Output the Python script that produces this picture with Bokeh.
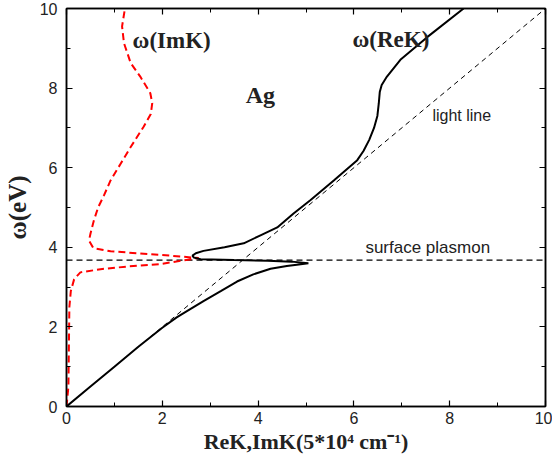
from bokeh.plotting import figure
from bokeh.models import LinearAxis, Label, Range1d, FixedTicker
from bokeh.embed import file_html
from bokeh.resources import INLINE

# omega(ReK): black solid curve (K in units of 5e4 cm^-1, omega in eV)
rek_k = [0.0, 0.5, 1.0, 1.5, 2.0, 2.3, 2.6, 2.86, 3.22, 3.56, 3.9, 4.26, 4.6, 4.85, 5.05,
         4.7, 4.2, 3.5, 2.8, 2.66, 2.63, 2.7, 2.86, 3.3, 3.7, 4.05, 4.4, 4.74, 5.09,
         5.58, 6.07, 6.2, 6.32, 6.42, 6.49, 6.52, 6.54, 6.58, 6.69, 6.97, 7.53, 8.29]
rek_w = [0.0, 0.5, 1.0, 1.5, 1.98, 2.24, 2.46, 2.65, 2.9, 3.14, 3.32, 3.46, 3.53, 3.57, 3.60,
         3.64, 3.665, 3.68, 3.70, 3.74, 3.79, 3.85, 3.91, 4.0, 4.1, 4.3, 4.5, 4.85, 5.18,
         5.68, 6.19, 6.42, 6.7, 7.0, 7.3, 7.62, 7.9, 8.08, 8.29, 8.71, 9.28, 10.0]

# omega(ImK): red dashed curve
imk_k = [0.0, 0.04, 0.05, 0.06, 0.09, 0.16, 0.29, 0.71, 1.3, 1.96, 2.76,
         1.96, 0.92, 0.56, 0.47, 0.5, 0.57, 0.66, 0.78, 0.92, 1.13, 1.34,
         1.61, 1.76, 1.79, 1.75, 1.54, 1.34, 1.2, 1.16, 1.22]
imk_w = [0.0, 0.5, 1.5, 2.5, 2.9, 3.2, 3.37, 3.45, 3.52, 3.58, 3.73,
         3.81, 3.9, 3.98, 4.17, 4.34, 4.67, 5.0, 5.3, 5.68, 6.10, 6.52,
         7.03, 7.35, 7.62, 7.87, 8.29, 8.63, 9.13, 9.55, 10.0]

# light line and surface plasmon
light_k = [0.0, 10.0]
light_w = [0.0, 10.0]
sp_k = [0.0, 10.0]
sp_w = [3.68, 3.68]

major_ticks = [0, 2, 4, 6, 8, 10]
minor_ticks = [1, 3, 5, 7, 9]

p = figure(width=552, height=456, output_backend="svg", toolbar_location=None,
           x_range=Range1d(0, 10), y_range=Range1d(0, 10),
           min_border_left=65, min_border_right=7, min_border_top=8,
           min_border_bottom=47)
p.grid.visible = False
p.outline_line_color = "black"
p.outline_line_width = 1.5
p.background_fill_color = "white"

serif = "Liberation Serif"
sans = "Liberation Sans"

def style_axis(ax, labels=True):
    ax.ticker = FixedTicker(ticks=major_ticks, minor_ticks=minor_ticks)
    ax.major_tick_in = 6
    ax.major_tick_out = 0
    ax.minor_tick_in = 4
    ax.minor_tick_out = 0
    ax.axis_line_color = "black"
    ax.axis_line_width = 1.5
    ax.major_tick_line_width = 1.2
    ax.minor_tick_line_width = 1.0
    ax.major_label_text_font = sans
    ax.major_label_text_font_size = "16px"
    ax.major_label_text_color = "#222222"
    if not labels:
        ax.major_label_overrides = {t: "" for t in major_ticks}
        ax.major_label_standoff = 0

style_axis(p.xaxis[0])
style_axis(p.yaxis[0])
p.xaxis[0].major_label_standoff = 5
p.yaxis[0].major_label_standoff = 9

p.xaxis[0].axis_label = "ReK,ImK(5*10\u2074 cm\u207b\u00b9)"
p.yaxis[0].axis_label = "\u03c9(eV)"
for ax in (p.xaxis[0], p.yaxis[0]):
    ax.axis_label_text_font = serif
    ax.axis_label_text_font_style = "bold"
    ax.axis_label_text_color = "#222222"
p.xaxis[0].axis_label_text_font_size = "22px"
p.yaxis[0].axis_label_text_font_size = "25px"
p.xaxis[0].axis_label_standoff = 2
p.yaxis[0].axis_label_standoff = 6

top = LinearAxis()
style_axis(top, labels=False)
p.add_layout(top, "above")
right = LinearAxis()
style_axis(right, labels=False)
p.add_layout(right, "right")

p.line(light_k, light_w, line_color="black", line_width=1, line_dash="5 4")
p.line(sp_k, sp_w, line_color="black", line_width=1.2, line_dash="6 4")
p.line(imk_k, imk_w, line_color="red", line_width=2, line_dash="7 4")
p.line(rek_k, rek_w, line_color="black", line_width=2)

def lab(x, y, t, font, size, style="normal"):
    p.add_layout(Label(x=x, y=y, text=t, text_font=font, text_font_size=size,
                       text_font_style=style, text_baseline="middle",
                       text_color="#222222"))

lab(1.38, 9.19, "\u03c9(ImK)", serif, "23px", "bold")
lab(5.97, 9.22, "\u03c9(ReK)", serif, "23px", "bold")
lab(3.74, 7.83, "Ag", serif, "24px", "bold")
lab(7.64, 7.32, "light line", sans, "16px")
lab(6.24, 3.99, "surface plasmon", sans, "17px")

open("out.html", "w").write(file_html(p, INLINE))
